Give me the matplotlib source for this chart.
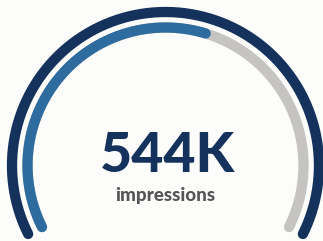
import numpy as np
import matplotlib
matplotlib.use("Agg")
import matplotlib.pyplot as plt

# gauge data
VALUE = 544          # thousands
TARGET = 950         # thousands, full scale of inner track
VALUE_LABEL = "544K"
METRIC_LABEL = "impressions"

START_DEG = 206.5
END_DEG = -26.5

NAVY = "#15325c"
BLUE = "#2e6c9f"
GRAY = "#c6c3c3"
BG = "#fcfcfb"

W, H = 323, 241
CX, CY = 165.5, 165.5
R_OUTER = 153.5
R_INNER = 138
LW = 7.4


def arc(ax, r, a0, a1, color):
    t = np.radians(np.linspace(a0, a1, 300))
    ax.plot(CX + r * np.cos(t), CY - r * np.sin(t), color=color, lw=LW,
            solid_capstyle="round")


fig = plt.figure(figsize=(W / 100, H / 100), dpi=100)
fig.patch.set_facecolor(BG)
ax = fig.add_axes([0, 0, 1, 1])
ax.set_xlim(0, W)
ax.set_ylim(H, 0)
ax.axis("off")

arc(ax, R_OUTER, START_DEG, END_DEG, NAVY)
arc(ax, R_INNER, START_DEG, END_DEG, GRAY)
frac = VALUE / TARGET
arc(ax, R_INNER, START_DEG, START_DEG + (END_DEG - START_DEG) * frac, BLUE)

ax.text(CX + 1.5, 156, VALUE_LABEL, ha="center", va="center", fontsize=40,
        fontweight="black", family="Lato", color=NAVY)
ax.text(CX, 196, METRIC_LABEL, ha="center", va="center", fontsize=13.5,
        fontweight="black", family="Lato", color="#555555")

fig.savefig("out.png", dpi=100, facecolor=BG)
